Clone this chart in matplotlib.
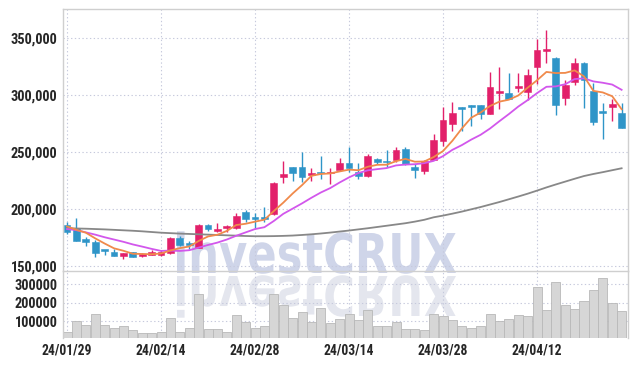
import numpy as np
import matplotlib
matplotlib.use("Agg")
import matplotlib.pyplot as plt
from matplotlib.textpath import TextPath
from matplotlib.patches import PathPatch
from matplotlib.font_manager import FontProperties
from matplotlib.transforms import Affine2D

# daily OHLC (KRW), 2024-01-29 .. 2024-04-25
opens = [186300, 183900, 173700, 171100, 164000, 162600, 159100, 162600, 159100, 160000,
         159700, 162000, 174600, 170200, 166400, 186300, 181000, 183600, 183400, 197700,
         193300, 193300, 195900, 228100, 236900, 236900, 229800, 231900, 231600, 234500,
         240900, 232500, 229500, 244100, 242700, 243300, 252700, 236900, 233600, 243300,
         260200, 274600, 289500, 291200, 291200, 283600, 302300, 301800, 306700, 303200,
         325100, 339000, 332500, 297900, 312000, 328600, 303800, 285500, 290000, 284800]
highs = [188600, 192100, 176000, 173100, 164200, 165500, 162000, 163000, 162000, 164000,
         164100, 176000, 176300, 171900, 186900, 187100, 187700, 186000, 197000, 199400,
         196500, 201800, 224000, 242700, 236900, 250000, 236000, 246800, 236000, 244800,
         254400, 240400, 248500, 245000, 252000, 254800, 254400, 239800, 243300, 265800,
         290000, 293900, 289500, 291200, 291200, 320200, 325100, 319300, 319300, 322800,
         349000, 357300, 333500, 313400, 332500, 329000, 310500, 293000, 296800, 293000]
lows = [178100, 172000, 168100, 158500, 159500, 159400, 156400, 158500, 158200, 160000,
        159300, 161200, 168100, 165500, 165900, 181300, 180100, 180400, 182500, 189200,
        183600, 189200, 195200, 222900, 225100, 224200, 224900, 226300, 222200, 233600,
        232700, 226600, 228700, 239500, 236900, 241500, 238600, 227200, 231000, 243300,
        255800, 268700, 268700, 273100, 279000, 283600, 288000, 296500, 303200, 295900,
        310300, 328100, 282700, 291500, 309000, 288600, 274000, 261400, 277500, 271600]
closes = [180400, 172500, 171600, 162000, 163500, 159400, 161700, 158500, 161100, 162300,
          162600, 175100, 168700, 168400, 186300, 182500, 182700, 185400, 194200, 191800,
          191800, 191300, 223400, 230700, 232100, 228600, 232100, 231500, 233000, 240900,
          236500, 229500, 246800, 241500, 241300, 252000, 239500, 234500, 242400, 260800,
          278300, 284800, 288000, 289800, 283600, 307000, 303800, 296500, 308200, 317600,
          339700, 340500, 291500, 309000, 328600, 313400, 276900, 284700, 292400, 271600]
volumes = [40500, 100000, 78400, 137800, 78400, 60500, 71400, 49700, 33300, 33300,
           40500, 114400, 40500, 60500, 244300, 55000, 55000, 40500, 130600, 92800,
           60500, 71400, 244300, 184800, 114400, 147000, 92800, 168600, 87600, 109200,
           137800, 105400, 157800, 71400, 71400, 92800, 55000, 55000, 49700, 137800,
           127000, 105400, 71400, 60500, 71400, 137800, 100000, 109200, 130600, 125400,
           283800, 157800, 310800, 184800, 163200, 206500, 266000, 332400, 197300, 152400]

# moving averages: lead-in values (window starts before Jan 29)
ma5_head = [185000, 182000, 179500, 174500]
ma10_head = [182700, 181700, 179800, 177800, 175500, 173500, 171500, 169200, 167300]
ma60 = [183400, 183200, 183000, 182700, 182400, 182000, 181600, 181200, 180700, 180100,
        179500, 179100, 178700, 178400, 178100, 177800, 177500, 177200, 176900, 176600,
        176400, 176400, 176500, 176700, 177000, 177500, 178100, 178800, 179600, 180500,
        181400, 182400, 183400, 184500, 185600, 186700, 187800, 189200, 190800, 193000,
        194500, 196200, 198000, 200000, 202000, 204200, 206400, 208800, 211200, 213700,
        216400, 219200, 221800, 224300, 226800, 229200, 231000, 232600, 234300, 236000]

tick_idx = [0, 10, 20, 30, 40, 50]
tick_labels = ['24/01/29', '24/02/14', '24/02/28', '24/03/14', '24/03/28', '24/04/12']
price_ticks = [150000, 200000, 250000, 300000, 350000]
price_labels = ['150,000', '200,000', '250,000', '300,000', '350,000']
vol_ticks = [100000, 200000, 300000]
vol_labels = ['100000', '200000', '300000']

n = len(closes)
x = np.arange(n)
o = np.array(opens)
c = np.array(closes)
h = np.array(highs)
l = np.array(lows)
ma5 = ma5_head + [np.mean(c[i - 4:i + 1]) for i in range(4, n)]
ma10 = ma10_head + [np.mean(c[i - 9:i + 1]) for i in range(9, n)]

UP = '#e2206a'
DOWN = '#2f95c8'
GRID = '#c6c9dc'
SPINE = '#cfcfcf'
TXT = '#262626'
fam = ['Roboto Condensed', 'Roboto', 'DejaVu Sans']
plt.rcParams['font.family'] = fam

fig = plt.figure(figsize=(6.36, 3.66), dpi=100, facecolor='white')
ax = fig.add_axes([63 / 636, 1 - 271 / 366, 565 / 636, 262 / 366])
axv = fig.add_axes([63 / 636, 1 - 338 / 366, 565 / 636, 67 / 366])

for a in (ax, axv):
    a.set_facecolor('none')
    a.set_xlim(-0.43, 59.68)
    a.set_xticks(tick_idx)
    a.grid(True, color=GRID, linestyle=(0, (1.2, 2.2)), linewidth=0.8)
    a.set_axisbelow(True)
    a.tick_params(length=0, labelsize=10.4, colors=TXT, pad=4)
    a.tick_params(axis='x', labelsize=9.8)
    for s in a.spines.values():
        s.set_color(SPINE)
        s.set_linewidth(1.0)

# candles
up = c >= o
col = np.where(up, UP, DOWN)
body_lo = np.minimum(o, c)
body_h = np.maximum(np.abs(c - o), 1500)
ax.vlines(x, l, h, colors=col, linewidth=1.0, zorder=2)
ax.bar(x, body_h, 0.72, bottom=body_lo, color=col, edgecolor=col, linewidth=0.4, zorder=2)

ax.plot(x, ma60, color='#888888', linewidth=1.3, zorder=3)
ax.plot(x, ma10, color='#d257ec', linewidth=1.3, zorder=3)
ax.plot(x, ma5, color='#f08a4b', linewidth=1.3, zorder=3)

ax.set_ylim(145900, 375700)
ax.set_yticks(price_ticks)
ax.set_yticklabels(price_labels, fontweight='bold')
ax.set_xticklabels([])
ax.spines['bottom'].set_visible(False)

axv.bar(x, volumes, 0.96, color='#d6d6d6', edgecolor='#b8b8b8', linewidth=0.6, zorder=2)
axv.set_ylim(8100, 370300)
axv.set_yticks(vol_ticks)
axv.set_yticklabels(vol_labels, fontweight='bold')
axv.set_xticklabels(tick_labels, fontweight='bold')
axv.spines['bottom'].set_visible(False)

# watermark with reflection, placed in pixel coords
fp = FontProperties(family=['DejaVu Sans'], weight='bold')
wm = TextPath((0, 0), 'investCRUX', size=100, prop=fp)
cap = TextPath((0, 0), 'X', size=100, prop=fp).get_extents().height
ext = wm.get_extents()
sx = (456 - 177) / ext.width
sy = 40 / cap
H = 366
t_main = Affine2D().translate(-ext.x0, 0).scale(sx, sy).translate(177, H - 273)
t_refl = Affine2D().translate(-ext.x0, 0).scale(sx, -sy).translate(177, H - 276)
fig.add_artist(PathPatch(wm, transform=t_main, facecolor='#cfd5e9', edgecolor='none', zorder=-1))
fig.add_artist(PathPatch(wm, transform=t_refl, facecolor='#e4e6ee', edgecolor='none', zorder=-1))

fig.savefig('out.png', dpi=100, facecolor='white')
